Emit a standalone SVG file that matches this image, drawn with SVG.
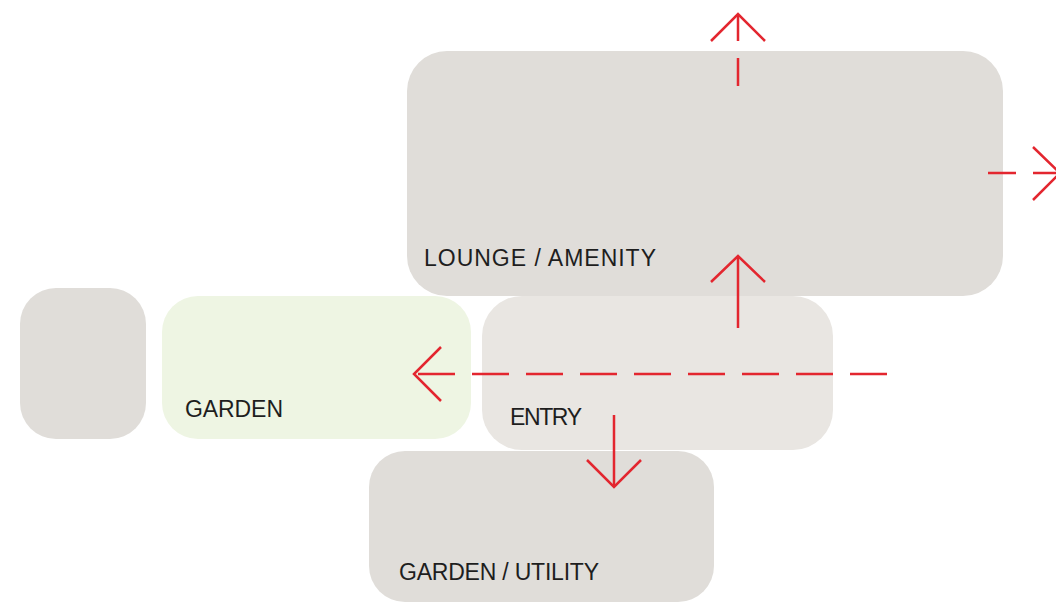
<svg xmlns="http://www.w3.org/2000/svg" width="1056" height="603" viewBox="0 0 1056 603">
<style>
.room{fill:#e0ddd9}
.entry{fill:#e9e6e2}
.garden{fill:#eef5e3}
.lbl{font-family:"Liberation Sans","DejaVu Sans",sans-serif;font-size:23px;fill:#1e1e1e}
.arr{fill:none;stroke:#e3262f;stroke-width:2.5;stroke-linecap:butt;stroke-linejoin:miter}
</style>
<rect width="1056" height="603" fill="#ffffff"/>
<g id="lounge">
<rect class="room" x="407" y="51" width="596" height="245" rx="40"/>
<text class="lbl" x="424" y="266" textLength="232" lengthAdjust="spacing">LOUNGE / AMENITY</text>
</g>
<g id="side-room">
<rect class="room" x="20" y="288" width="126" height="151" rx="36"/>
</g>
<g id="garden">
<rect class="garden" x="162" y="296" width="309" height="143" rx="36"/>
<text class="lbl" x="185" y="417" textLength="98" lengthAdjust="spacing">GARDEN</text>
</g>
<g id="entry">
<rect class="entry" x="482" y="296" width="351" height="154" rx="40"/>
<text class="lbl" x="510" y="425" textLength="72" lengthAdjust="spacing">ENTRY</text>
</g>
<g id="garden-utility">
<rect class="room" x="369" y="451" width="345" height="151" rx="36"/>
<text class="lbl" x="399" y="580" textLength="200" lengthAdjust="spacing">GARDEN / UTILITY</text>
</g>
<g id="connectors">
<path class="arr" d="M738 86 L738 14" stroke-dasharray="28 17"/>
<path class="arr" d="M711 41 L738 14 L765 41"/>
<path class="arr" d="M988 173 L1060 173" stroke-dasharray="28 17"/>
<path class="arr" d="M1033 147 L1060 173 L1033 200"/>
<path class="arr" d="M738 328 L738 256"/>
<path class="arr" d="M711 282 L738 256 L765 282"/>
<path class="arr" d="M887 374 L414 374" stroke-dasharray="37 17"/>
<path class="arr" d="M441 347 L414 374 L441 401"/>
<path class="arr" d="M614 415 L614 487"/>
<path class="arr" d="M587 460 L614 487 L641 460"/>
</g>
</svg>
